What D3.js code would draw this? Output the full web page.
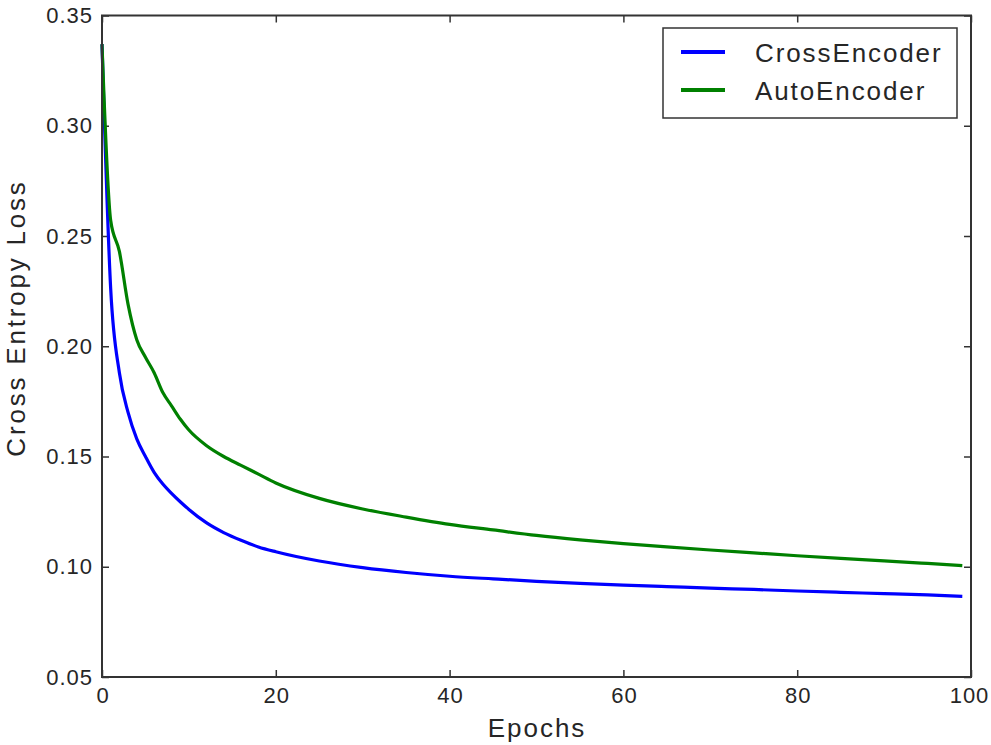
<!DOCTYPE html>
<meta charset="utf-8">
<style>

body {
  margin: 0;
  background: #fff;
}

text {
  font-family: "Liberation Sans", Arial, sans-serif;
  fill: #262626;
}

.axis line {
  stroke: #333;
  stroke-width: 1.5px;
}

.axis .domain {
  display: none;
}

.tick text {
  font-size: 22px;
  letter-spacing: 1px;
}

</style>
<svg width="991" height="745"></svg>
<script src="https://cdn.jsdelivr.net/npm/d3@7/dist/d3.min.js"></script>
<script>

// values
var epochs = [0, 1, 2, 3, 4, 5, 6, 7, 8, 9, 10, 12, 14, 16, 18, 20, 25, 30, 35, 40, 45, 50, 55, 60, 65, 70, 75, 80, 85, 90, 95, 99]

var crossEncoder = [0.337, 0.226, 0.188, 0.170, 0.158, 0.150, 0.1428, 0.1375, 0.1333, 0.1295, 0.126, 0.120, 0.1155, 0.112, 0.109, 0.1068,
  0.1026, 0.0996, 0.0974, 0.0957, 0.0945, 0.0934, 0.0925, 0.0917, 0.0910, 0.0903, 0.0897, 0.0890, 0.0884, 0.0878, 0.0872, 0.0866]

var autoEncoder = [0.337, 0.257, 0.243, 0.219, 0.203, 0.195, 0.188, 0.179, 0.173, 0.167, 0.162, 0.155, 0.150, 0.146, 0.142, 0.138,
  0.131, 0.1262, 0.1225, 0.1192, 0.1167, 0.1142, 0.1122, 0.1105, 0.1090, 0.1076, 0.1063, 0.1050, 0.1038, 0.1027, 0.1015, 0.1005]

var seriesNames = ["CrossEncoder", "AutoEncoder"]
var seriesColors = ["#0000ff", "#008000"]

var xTicks = [0, 20, 40, 60, 80, 100]
var yTicks = [0.05, 0.10, 0.15, 0.20, 0.25, 0.30, 0.35]

var svg = d3.select("svg")

// plot box (window.top is taken, so prefix these)
var plotLeft = 102, plotRight = 971, plotTop = 15.5, plotBottom = 677

var x = d3.scaleLinear()
    .domain([0, 100])
    .range([plotLeft, plotRight])

var y = d3.scaleLinear()
    .domain([0.05, 0.35])
    .range([plotBottom, plotTop])

// ticks on all four sides, pointing inward
svg.append("g")
    .attr("class", "axis")
    .attr("transform", "translate(" + plotLeft + ",0)")
    .call(d3.axisLeft(y).tickValues(yTicks).tickFormat(d3.format(".2f"))
      .tickSizeInner(-7).tickSizeOuter(0).tickPadding(9))

svg.append("g")
    .attr("class", "axis")
    .attr("transform", "translate(0," + plotBottom + ")")
    .call(d3.axisBottom(x).tickValues(xTicks).tickFormat(d3.format("d"))
      .tickSizeInner(-7).tickSizeOuter(0).tickPadding(10))
  .selectAll("text")
    .attr("dx", function(d) { return d === 100 ? "-2" : "0.5" })

svg.append("g")
    .attr("class", "axis")
    .attr("transform", "translate(" + plotRight + ",0)")
    .call(d3.axisRight(y).tickValues(yTicks).tickFormat("").tickSizeInner(-7).tickSizeOuter(0))

svg.append("g")
    .attr("class", "axis")
    .attr("transform", "translate(0," + plotTop + ")")
    .call(d3.axisTop(x).tickValues(xTicks).tickFormat("").tickSizeInner(-7).tickSizeOuter(0))

// lines
var series = [crossEncoder, autoEncoder]

var line = d3.line()
    .x(function(d, i) { return x(epochs[i]) })
    .y(function(d) { return y(d) })
    .curve(d3.curveMonotoneX)

svg.selectAll(".series")
    .data(series)
    .enter().append("path")
      .attr("class", "series")
      .attr("d", line)
      .attr("fill", "none")
      .attr("stroke", function(d, i) { return seriesColors[i] })
      .attr("stroke-width", 3.2)
      .attr("stroke-linejoin", "round")

// frame
svg.append("rect")
    .attr("x", plotLeft)
    .attr("y", plotTop)
    .attr("width", plotRight - plotLeft)
    .attr("height", plotBottom - plotTop)
    .attr("fill", "none")
    .attr("stroke", "#333")
    .attr("stroke-width", 2)

// axis labels
svg.append("text")
    .attr("x", 537)
    .attr("y", 737)
    .attr("text-anchor", "middle")
    .style("font-size", "26px")
    .style("letter-spacing", "2px")
    .text("Epochs")

svg.append("text")
    .attr("transform", "translate(25,318) rotate(-90)")
    .attr("text-anchor", "middle")
    .style("font-size", "26px")
    .style("letter-spacing", "2.8px")
    .text("Cross Entropy Loss")

// legend
var legend = svg.append("g")

legend.append("rect")
    .attr("x", 663)
    .attr("y", 28)
    .attr("width", 294)
    .attr("height", 90)
    .attr("fill", "#fff")
    .attr("stroke", "#333")
    .attr("stroke-width", 1.5)

var item = legend.selectAll(".item")
    .data(seriesNames)
    .enter().append("g")
      .attr("class", "item")
      .attr("transform", function(d, i) { return "translate(0," + (52 + i * 38) + ")" })

item.append("line")
    .attr("x1", 681)
    .attr("x2", 725)
    .attr("stroke", function(d, i) { return seriesColors[i] })
    .attr("stroke-width", 4)

item.append("text")
    .attr("x", 755)
    .attr("y", 9.5)
    .style("font-size", "26px")
    .style("letter-spacing", "1.9px")
    .text(function(d) { return d })

</script>
